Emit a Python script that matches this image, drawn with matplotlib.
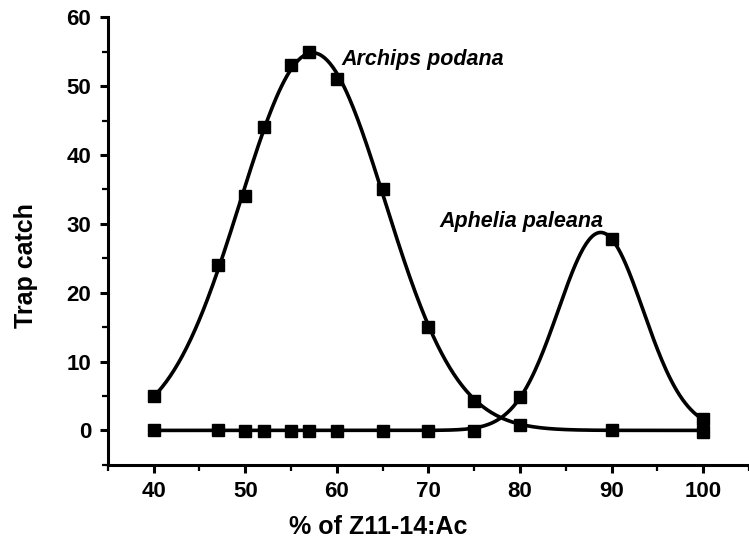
import numpy as np
import matplotlib
matplotlib.use("Agg")
import matplotlib.pyplot as plt
from matplotlib.ticker import MultipleLocator

# % of Z11-14:Ac in the blend
ratio = [40, 47, 50, 52, 55, 57, 60, 65, 70, 75, 80, 90, 100]

# Mean trap catch per blend
archips_podana = [5, 24, 34, 44, 53, 55, 51, 35, 15, 4.3, 0.8, 0.1, -0.2]
aphelia_paleana = [0, 0, -0.1, -0.1, -0.1, -0.1, -0.1, -0.1, -0.1, -0.1, 4.8, 27.8, 1.6]


def gauss(x, a, mu, s):
    return a * np.exp(-(x - mu) ** 2 / (2 * s ** 2))


def fit_gauss(x, y):
    """Least-squares Gaussian fit (Levenberg-Marquardt)."""
    x = np.asarray(x, float)
    y = np.asarray(y, float)
    i = int(np.argmax(y))
    p = np.array([y[i], x[i], 6.0])
    lam = 1e-2
    for _ in range(500):
        a, mu, s = p
        g = gauss(x, a, mu, s)
        r = y - g
        J = np.column_stack([
            g / a,
            g * (x - mu) / s ** 2,
            g * (x - mu) ** 2 / s ** 3,
        ])
        A = J.T @ J
        step = np.linalg.solve(A + lam * np.diag(np.diag(A)), J.T @ r)
        p_new = p + step
        if np.sum((y - gauss(x, *p_new)) ** 2) < np.sum(r ** 2):
            p = p_new
            lam *= 0.5
        else:
            lam *= 4
    return p


plt.rcParams["font.family"] = ["Liberation Sans", "DejaVu Sans"]
plt.rcParams["font.weight"] = "bold"

fig = plt.figure(figsize=(7.49, 5.38), dpi=100)
ax = fig.add_axes([0.144, 0.136, 0.856, 0.832])

xs = np.linspace(min(ratio), max(ratio), 400)
for series in (archips_podana, aphelia_paleana):
    p = fit_gauss(ratio, series)
    ax.plot(xs, gauss(xs, *p), color="black", lw=2.6, zorder=2)
    ax.plot(ratio, series, ls="none", marker="s", ms=8, color="black", zorder=3)

ax.text(60.5, 53.8, "Archips podana", fontsize=15.5, fontstyle="italic",
        fontweight="bold", ha="left", va="center")
ax.text(71.2, 30.4, "Aphelia paleana", fontsize=15.5, fontstyle="italic",
        fontweight="bold", ha="left", va="center")

ax.set_xlim(35, 105)
ax.set_ylim(-5, 60)
ax.xaxis.set_major_locator(MultipleLocator(10))
ax.xaxis.set_minor_locator(MultipleLocator(5))
ax.yaxis.set_major_locator(MultipleLocator(10))
ax.yaxis.set_minor_locator(MultipleLocator(5))
ax.set_xticks([40, 50, 60, 70, 80, 90, 100])

for side in ("top", "right"):
    ax.spines[side].set_visible(False)
for side in ("left", "bottom"):
    ax.spines[side].set_linewidth(2.2)

ax.tick_params(which="major", direction="out", length=6, width=2.2,
               labelsize=16, pad=6)
ax.tick_params(which="minor", direction="out", length=4, width=1.6)
for lbl in ax.get_xticklabels() + ax.get_yticklabels():
    lbl.set_fontweight("bold")

ax.set_xlabel("% of Z11-14:Ac", fontsize=18, fontweight="bold")
ax.set_ylabel("Trap catch", fontsize=18, fontweight="bold")
ax.xaxis.set_label_coords(0.421, -0.139)
ax.yaxis.set_label_coords(-0.128, 0.446)
ax.xaxis.label.set_va("center")
ax.yaxis.label.set_va("center")

fig.savefig("out.png", dpi=100)
